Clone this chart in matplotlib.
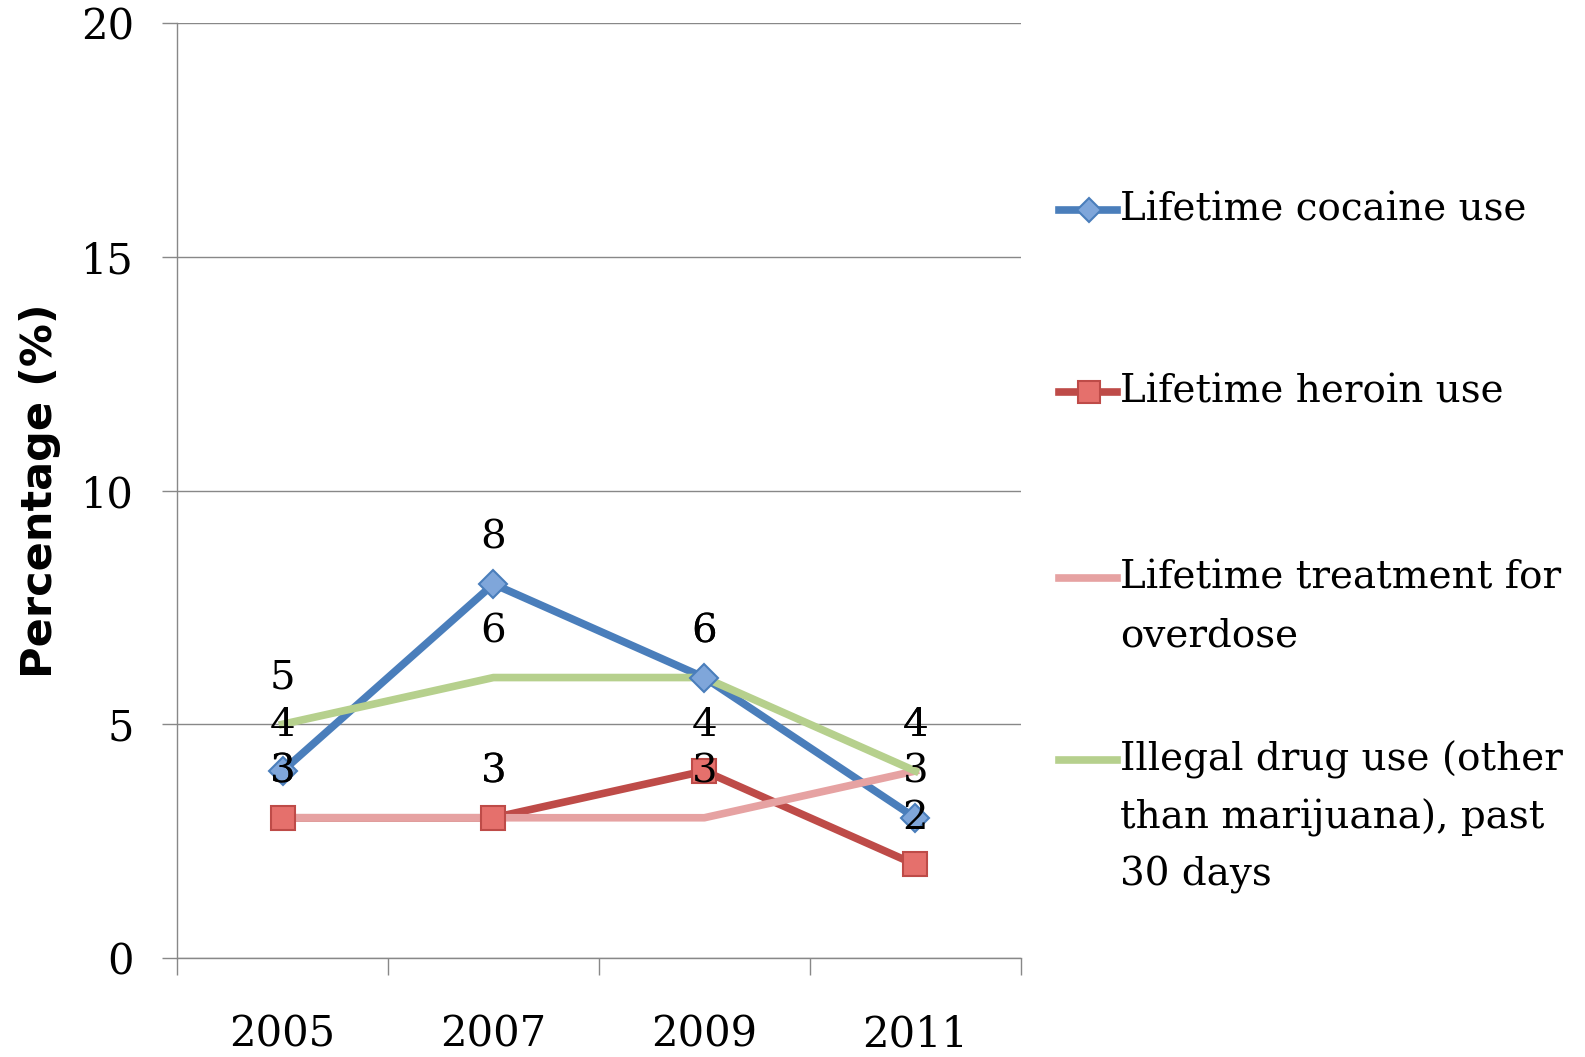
import matplotlib
matplotlib.use("Agg")
import matplotlib.pyplot as plt
from matplotlib.lines import Line2D

# Data
years = ["2005", "2007", "2009", "2011"]
cocaine = [4, 8, 6, 3]
heroin = [3, 3, 4, 2]
overdose = [3, 3, 3, 4]
illegal = [5, 6, 6, 4]

labels = [
    "Lifetime cocaine use",
    "Lifetime heroin use",
    "Lifetime treatment for\noverdose",
    "Illegal drug use (other\nthan marijuana), past\n30 days",
]
colors = ["#4A7EBB", "#BE4B48", "#E6A2A2", "#B6D08D"]
markers = ["D", "s", None, None]
marker_faces = ["#7FA6DA", "#E5706C", None, None]
series = [cocaine, heroin, overdose, illegal]

serif = ["DejaVu Serif"]

fig = plt.figure(figsize=(15.85, 10.57), dpi=100)
ax = fig.add_axes([0.1117, 0.0937, 0.5323, 0.8843])

x = list(range(len(years)))
for i, (vals, col) in enumerate(zip(series, colors)):
    ax.plot(x, vals, color=col, lw=5.5, solid_joinstyle="round", zorder=3 + i * 0.1)
for vals, col, m, fc in zip(series, colors, markers, marker_faces):
    if m is not None:
        ax.plot(x, vals, ls="none", marker=m, ms=17 if m == "s" else 14,
                mfc=fc, mec=col, mew=1.5, zorder=5)

# data labels above each point
for vals in series:
    for xi, v in zip(x, vals):
        ax.annotate(str(v), (xi, v), xytext=(0, 33), textcoords="offset points",
                    ha="center", va="center", fontsize=29, family=serif,
                    color="black", zorder=6)

ax.set_xlim(-0.5, 3.5)
ax.set_ylim(0, 20)
ax.set_yticks([0, 5, 10, 15, 20])
ax.set_xticks(x)
ax.set_xticklabels(years)
ax.set_xticks([-0.5, 0.5, 1.5, 2.5, 3.5], minor=True)
ax.tick_params(axis="x", which="major", length=0, pad=40, labelsize=30)
ax.tick_params(axis="x", which="minor", length=12, width=1, color="#888888")
ax.tick_params(axis="y", length=11, width=1, color="#888888", pad=20, labelsize=30)
for lab in ax.get_xticklabels() + ax.get_yticklabels():
    lab.set_family(serif)

ax.grid(axis="y", color="#888888", lw=1, zorder=0)
ax.set_axisbelow(True)
for s in ["top", "right"]:
    ax.spines[s].set_visible(False)
for s in ["left", "bottom"]:
    ax.spines[s].set_color("#888888")
    ax.spines[s].set_linewidth(1)

ax.set_ylabel("Percentage (%)", fontsize=31, fontweight="bold",
              family="DejaVu Sans", labelpad=14)

# legend drawn on the right, entries like the original
leg_y = [0.801, 0.629, 0.453, 0.281]
line_step = 0.0545
for lab, col, m, fc, yy in zip(labels, colors, markers, marker_faces, leg_y):
    fig.add_artist(Line2D([0.668, 0.705], [yy, yy], transform=fig.transFigure,
                          color=col, lw=5.5))
    if m is not None:
        fig.add_artist(Line2D([0.687], [yy], transform=fig.transFigure, ls="none",
                              marker=m, ms=16 if m == "s" else 12, mfc=fc, mec=col, mew=1.5))
    for k, part in enumerate(lab.split("\n")):
        fig.text(0.7066, yy - k * line_step, part, ha="left", va="center",
                 fontsize=28, family=serif)

fig.savefig("out.png", dpi=100, facecolor="white")
